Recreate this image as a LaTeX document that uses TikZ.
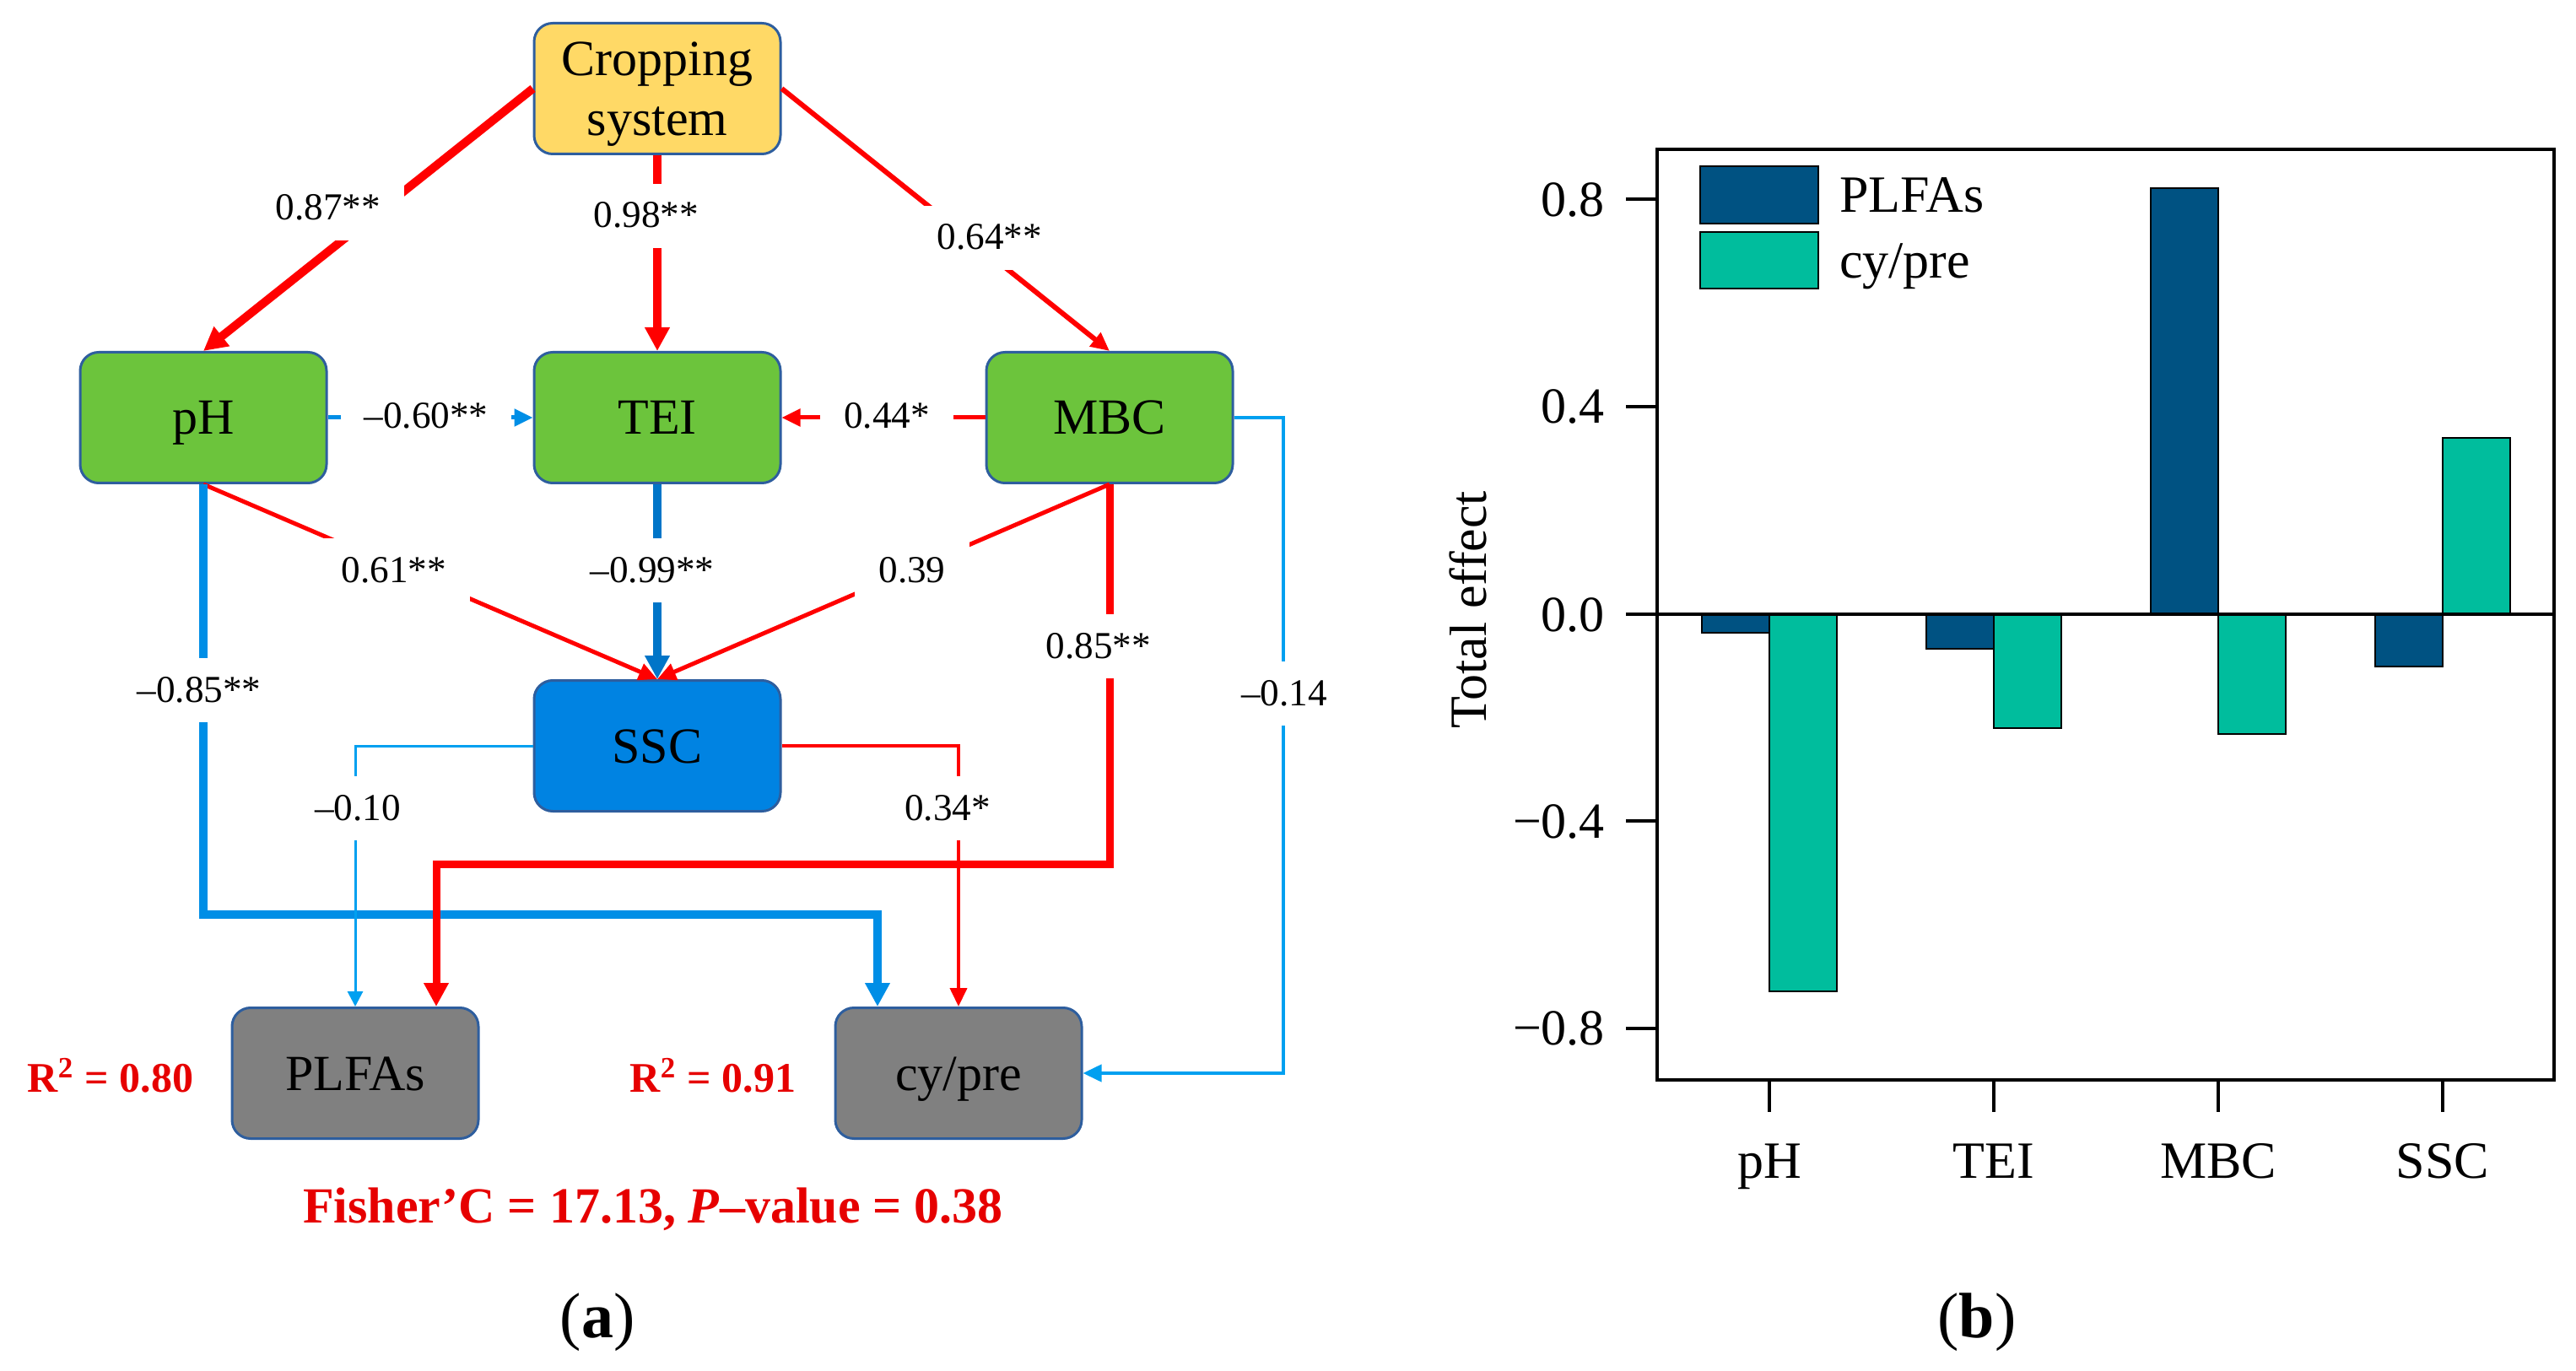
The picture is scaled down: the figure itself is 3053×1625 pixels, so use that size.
\documentclass[tikz,border=0pt]{standalone}
\usepackage{fontspec}
\setmainfont{Liberation Serif}
\usetikzlibrary{arrows.meta}
\definecolor{cred}{HTML}{FF0000}
\definecolor{blueL}{HTML}{008EE6}
\definecolor{blueT}{HTML}{00A0F0}
\definecolor{blueD}{HTML}{0075C8}
\definecolor{cbox}{HTML}{2E5E9E}
\definecolor{cyel}{HTML}{FFD966}
\definecolor{cgreen}{HTML}{6CC43C}
\definecolor{cssc}{HTML}{0083E2}
\definecolor{cgrey}{HTML}{808080}
\definecolor{cplfa}{HTML}{005282}
\definecolor{ccy}{HTML}{00BD9D}
\definecolor{ctxt}{HTML}{E60000}
\begin{document}
\begin{tikzpicture}[x=0.25pt,y=-0.25pt,
  box/.style={draw=cbox, line width=0.75pt, rounded corners=5.5pt, minimum width=73pt, minimum height=38.75pt, inner sep=0pt, font=\fontsize{15}{17.75}\selectfont, align=center, text depth=0pt},
  onebox/.style={box, text height=10pt},
  lbl/.style={fill=white, inner xsep=7pt, inner ysep=3.5pt, text height=9.5pt, text depth=2.5pt, font=\fontsize{11.3}{13}\selectfont},
  tipL/.style={-{Triangle[length=7pt,width=7pt]}},
  tipM/.style={-{Triangle[length=5.5pt,width=5pt]}},
  tipS/.style={-{Triangle[length=4.5pt,width=4.5pt]}},
  rlab/.style={text=ctxt, font=\bfseries\fontsize{12.5}{15}\selectfont},
  axlab/.style={font=\fontsize{15}{18}\selectfont, text height=10pt, text depth=0pt},
  catlab/.style={font=\fontsize{15.5}{18}\selectfont, text height=10.3pt, text depth=0pt},
  bar/.style={draw=black, line width=0.5pt}
]
\useasboundingbox (0,0) rectangle (3053,1625);

% ---------- panel (a) nodes ----------
\node[box, fill=cyel] (crop) at (779,105) {Cropping\\system};
\node[onebox, fill=cgreen] (ph) at (241,495) {pH};
\node[onebox, fill=cgreen] (tei) at (779,495) {TEI};
\node[onebox, fill=cgreen] (mbc) at (1315,495) {MBC};
\node[onebox, fill=cssc] (ssc) at (779,884) {SSC};
\node[onebox, fill=cgrey] (plfa) at (421,1272) {PLFAs};
\node[onebox, fill=cgrey] (cy) at (1136,1272) {cy/pre};

\coordinate (yb) at (0,1084);
\coordinate (yr) at (0,1024);
\coordinate (xr) at (1521,0);

% ---------- connectors ----------
\draw[cred, line width=2.5pt, tipL] (crop.west) -- (ph.north);
\draw[cred, line width=2.5pt, tipL] (crop.south) -- (tei.north);
\draw[cred, line width=1.5pt, tipM] (crop.east) -- (mbc.north);
\draw[blueL, line width=1.25pt, tipM] (ph.east) -- (tei.west);
\draw[cred, line width=1.25pt, tipM] (mbc.west) -- (tei.east);
\draw[blueD, line width=2.5pt, tipL] (tei.south) -- (ssc.north);
\draw[cred, line width=1.25pt, tipM] (ph.south) -- (ssc.north);
\draw[cred, line width=1.25pt, tipM] (mbc.south) -- (ssc.north);
\draw[blueL, line width=2.5pt, tipL] (ph.south) -- (ph.south |- yb) -| ([xshift=-24pt]cy.north);
\draw[blueT, line width=0.75pt, tipS] (ssc.west) -| (plfa.north);
\draw[cred, line width=1pt, tipM] (ssc.east) -| (cy.north);
\draw[cred, line width=2.25pt, tipL] (mbc.south) -- (mbc.south |- yr) -| ([xshift=24pt]plfa.north);
\draw[blueT, line width=1pt, tipM] (mbc.east) -- (mbc.east -| xr) |- (cy.east);

% ---------- connector labels ----------
\node[lbl] (l1) at (389,247) {0.87**};
\node[lbl] (l2) at (766,256) {0.98**};
\node[lbl] (l3) at (1173,282) {0.64**};
\node[lbl] (l4) at (505,494) {–0.60**};
\node[lbl] (l5) at (1051,494) {0.44*};
\node[lbl] (l6) at (467,676) {0.61**};
\node[lbl] (l7) at (773,676) {–0.99**};
\node[lbl] (l8) at (1081,676) {0.39};
\node[lbl] (l9) at (236,818) {–0.85**};
\node[lbl] (l10) at (1302,766) {0.85**};
\node[lbl] (l11) at (1522,822) {–0.14};
\node[lbl] (l12) at (424,958) {–0.10};
\node[lbl] (l13) at (1123,958) {0.34*};

\node[rlab] (r1) at (131,1275) {R\textsuperscript{2} = 0.80};
\node[rlab] (r2) at (845,1275) {R\textsuperscript{2} = 0.91};
\node[text=ctxt, font=\bfseries\fontsize{15}{18}\selectfont] (fc) at (774,1433) {Fisher’C = 17.13, \textit{P}–value = 0.38};
\node[font=\fontsize{19}{22}\selectfont] (pa) at (708,1567) {(\textbf{a})};

% ---------- panel (b) ----------
\foreach \cx/\va/\vb [count=\i] in {2097/750.3/1175.2, 2363/769.4/863.3, 2629/222.9/870.0, 2895/790.2/518.8} {
  \draw[bar, fill=cplfa] (\cx-80,728) rectangle (\cx,\va);
  \draw[bar, fill=ccy] (\cx,728) rectangle (\cx+80,\vb);
  \draw[line width=1pt] (\cx,1280) -- (\cx,1318);
}
\draw[line width=1pt] (1964,177) rectangle (3027,1280);
\draw[line width=1pt] (1927,728) -- (3027,728);
\foreach \yy in {236.4,482,973.2,1218.8} {
  \draw[line width=1pt] (1927,\yy) -- (1964,\yy);
}
\node[axlab, anchor=east] (t1) at (1916,236.4) {0.8};
\node[axlab, anchor=east] (t2) at (1916,482) {0.4};
\node[axlab, anchor=east] (t3) at (1916,728) {0.0};
\node[axlab, anchor=east] (t4) at (1916,973.2) {−0.4};
\node[axlab, anchor=east] (t5) at (1916,1218.8) {−0.8};

\node[catlab] (c1) at (2097,1376) {pH};
\node[catlab] (c2) at (2363,1376) {TEI};
\node[catlab] (c3) at (2629,1376) {MBC};
\node[catlab] (c4) at (2895,1376) {SSC};

\node[catlab, rotate=90] (yl) at (1741,723) {Total effect};

\draw[bar, fill=cplfa] (2015,197) rectangle (2155,265);
\draw[bar, fill=ccy] (2015,275) rectangle (2155,342);
\node[catlab, anchor=west] (lg1) at (2166,231) {PLFAs};
\node[catlab, anchor=west] (lg2) at (2166,309) {cy/pre};

\node[font=\fontsize{19}{22}\selectfont] (pb) at (2343,1567) {(\textbf{b})};
\end{tikzpicture}
\end{document}
